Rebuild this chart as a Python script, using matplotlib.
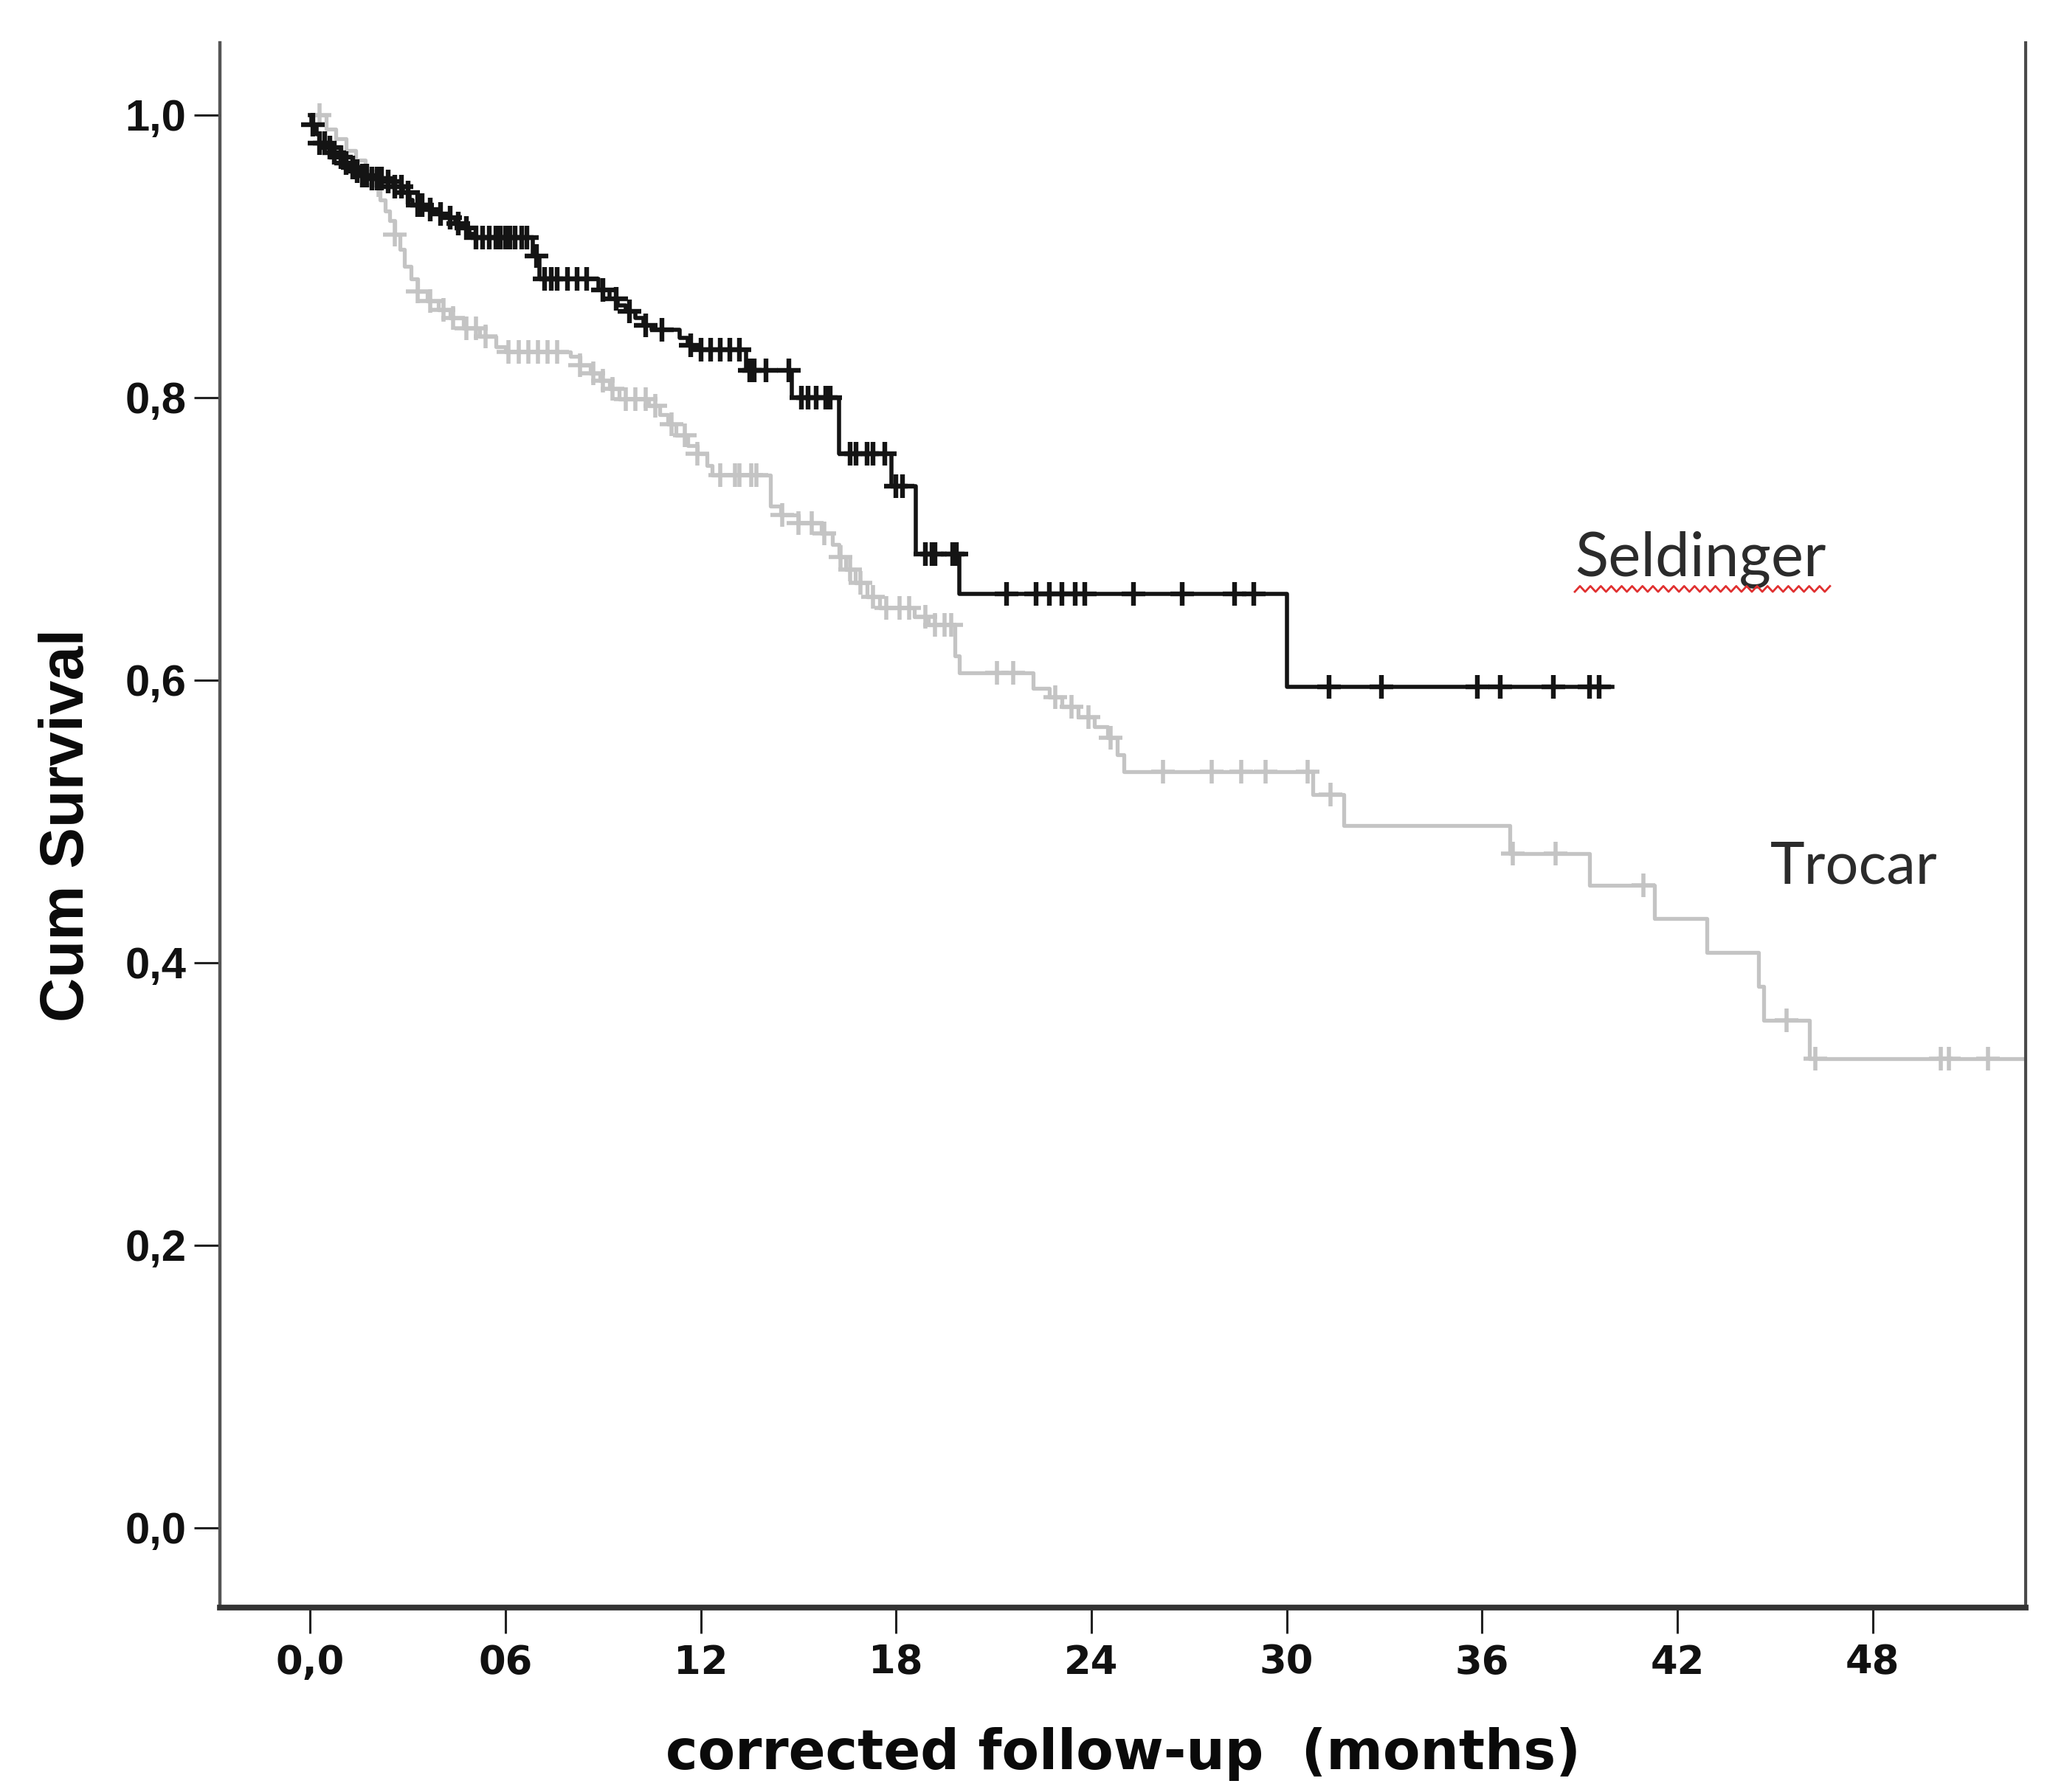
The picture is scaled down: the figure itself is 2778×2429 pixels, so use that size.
import numpy as np
import matplotlib
matplotlib.use("Agg")
import matplotlib.pyplot as plt

# ---------------- data ----------------
# Seldinger: event times (months) and survival after each event
seld_times = [0.05, 0.2, 0.3, 0.5, 0.7, 0.85, 1.0, 1.2, 1.35, 1.6, 1.9, 2.3, 2.55, 2.85,
              3.05, 3.15, 3.6, 3.85, 4.1, 4.45, 4.7, 4.9, 5.05, 6.85, 7.05, 8.85, 9.2,
              9.45, 9.7, 10.0, 10.25, 10.5, 11.35, 11.6, 11.9, 13.4, 14.8, 16.25, 17.85,
              18.6, 19.95, 30.0]
seld_surv = [0.993, 0.986, 0.980, 0.977, 0.973, 0.970, 0.966, 0.963, 0.960, 0.957, 0.955,
             0.953, 0.949, 0.945, 0.940, 0.936, 0.933, 0.930, 0.927, 0.923, 0.920, 0.916,
             0.913, 0.900, 0.884, 0.876, 0.870, 0.865, 0.861, 0.856, 0.851, 0.848, 0.842,
             0.837, 0.834, 0.819, 0.800, 0.760, 0.737, 0.689, 0.661, 0.595]
seld_end = 40.0
seld_censor = [0.08, 0.3, 0.45, 0.6, 0.75, 0.95, 1.1, 1.3, 1.45, 1.6, 1.75, 1.9, 2.05, 2.2,
               2.4, 2.6, 2.8, 3.0, 3.3, 3.45, 3.7, 4.0, 4.3, 4.55, 4.8, 5.1, 5.3, 5.5, 5.7,
               5.85, 6.0, 6.15, 6.3, 6.5, 6.65, 6.95, 7.2, 7.4, 7.6, 7.9, 8.2, 8.5, 9.0,
               9.4, 9.8, 10.3, 10.8, 11.7, 12.0, 12.3, 12.6, 12.9, 13.2, 13.5, 13.65,
               14.0, 14.7, 15.1, 15.3, 15.55, 15.85, 15.97, 16.6, 16.76, 17.1, 17.3, 17.65,
               18.0, 18.2, 18.9, 19.1, 19.2, 19.75, 19.85, 21.4, 22.3, 22.7, 23.1, 23.5,
               23.8, 25.3, 26.8, 28.4, 29.0, 31.3, 32.9, 35.85, 36.55, 38.2, 39.3, 39.6]

# Trocar
troc_times = [0.5, 0.8, 1.1, 1.4, 1.7, 1.95, 2.15, 2.3, 2.45, 2.6, 2.75, 2.9, 3.1, 3.3,
              3.6, 3.95, 4.3, 4.7, 5.2, 5.7, 6.0, 8.0, 8.3, 8.6, 8.9, 9.2, 9.5, 10.4,
              10.75, 11.0, 11.25, 11.6, 11.9, 12.2, 12.35, 14.15, 14.45, 15.0, 15.7,
              16.05, 16.25, 16.45, 16.75, 17.1, 17.5, 18.55, 19.0, 19.8, 19.95, 22.2,
              22.7, 23.1, 23.6, 24.1, 24.5, 24.8, 25.0, 30.8, 31.75, 36.85, 39.3, 41.3,
              42.9, 44.5, 44.65, 46.05]
troc_surv = [0.990, 0.983, 0.975, 0.968, 0.960, 0.950, 0.940, 0.932, 0.925, 0.915, 0.905,
             0.893, 0.884, 0.875, 0.868, 0.862, 0.856, 0.849, 0.843, 0.836, 0.832, 0.829,
             0.823, 0.817, 0.812, 0.806, 0.799, 0.794, 0.788, 0.781, 0.773, 0.766, 0.760,
             0.752, 0.745, 0.723, 0.717, 0.711, 0.704, 0.696, 0.687, 0.678, 0.669, 0.659,
             0.651, 0.645, 0.639, 0.617, 0.605, 0.594, 0.588, 0.581, 0.574, 0.567, 0.559,
             0.547, 0.535, 0.519, 0.497, 0.477, 0.455, 0.431, 0.407, 0.383, 0.359, 0.332]
troc_end = 54.0
troc_censor = [0.3, 2.1, 2.6, 3.3, 3.7, 4.1, 4.4, 4.8, 5.1, 5.4, 6.1, 6.4, 6.7, 7.0, 7.3,
               7.6, 8.3, 8.7, 9.0, 9.3, 9.7, 10.0, 10.3, 10.6, 11.1, 11.5, 11.9, 12.6,
               13.05, 13.2, 13.55, 13.7, 14.5, 15.0, 15.4, 15.8, 16.3, 16.6, 16.9, 17.3,
               17.7, 18.1, 18.4, 18.9, 19.2, 19.5, 19.7, 21.1, 21.6, 22.9, 23.4, 23.9,
               24.6, 26.2, 27.7, 28.6, 29.35, 30.65, 31.35, 36.95, 38.25, 40.95, 45.35,
               46.25, 50.1, 50.35, 51.55]

x_ticks = [0, 6, 12, 18, 24, 30, 36, 42, 48]
x_ticklabels = ["0,0", "06", "12", "18", "24", "30", "36", "42", "48"]
y_ticks = [0.0, 0.2, 0.4, 0.6, 0.8, 1.0]
y_ticklabels = ["0,0", "0,2", "0,4", "0,6", "0,8", "1,0"]

# ---------------- figure ----------------
W, H, DPI = 2778, 2429, 200
fig = plt.figure(figsize=(W / DPI, H / DPI), dpi=DPI)
ax = fig.add_axes([298 / W, 250 / H, (2745 - 298) / W, (2371 - 250) / H])


def km_curve(times, surv, end):
    t = np.concatenate([[0.0], np.asarray(times, float), [end]])
    s = np.concatenate([[1.0], np.asarray(surv, float), [surv[-1]]])
    return t, s


def censor_y(times, surv, ct):
    idx = np.searchsorted(np.asarray(times, float), np.asarray(ct, float), side="right")
    s = np.concatenate([[1.0], np.asarray(surv, float)])
    return s[idx]


gray = "#c4c4c4"
black = "#141414"

tt, ts = km_curve(troc_times, troc_surv, troc_end)
ax.step(tt, ts, where="post", color=gray, lw=1.9, zorder=2)
ax.plot(troc_censor, censor_y(troc_times, troc_surv, troc_censor), ls="none",
        marker="+", ms=11.5, mew=2.0, color=gray, zorder=2)

st, ss = km_curve(seld_times, seld_surv, seld_end)
ax.step(st, ss, where="post", color=black, lw=2.0, zorder=3)
ax.plot(seld_censor, censor_y(seld_times, seld_surv, seld_censor), ls="none",
        marker="+", ms=11.5, mew=2.3, color=black, zorder=3)

ax.set_xlim(-2.77, 52.7)
ax.set_ylim(-0.0564, 1.051)

# spines
ax.spines["top"].set_visible(False)
ax.spines["left"].set_color("#555555")
ax.spines["left"].set_linewidth(1.6)
ax.spines["right"].set_color("#4a4a4a")
ax.spines["right"].set_linewidth(1.5)
ax.spines["bottom"].set_color("#333333")
ax.spines["bottom"].set_linewidth(2.8)

ax.set_xticks(x_ticks)
ax.set_xticklabels(x_ticklabels)
ax.set_yticks(y_ticks)
ax.set_yticklabels(y_ticklabels)
ax.tick_params(axis="both", direction="out", length=12.5, width=1.1, color="#222222")
ax.tick_params(axis="x", pad=5)
ax.tick_params(axis="y", pad=4)
for lab in ax.get_xticklabels():
    lab.set_fontfamily("DejaVu Sans")
    lab.set_fontweight("bold")
    lab.set_fontsize(19)
    lab.set_color("#111111")
for lab in ax.get_yticklabels():
    lab.set_fontfamily("Liberation Sans")
    lab.set_fontweight("bold")
    lab.set_fontsize(21.5)
    lab.set_color("#111111")

ax.set_xlabel("corrected follow-up  (months)", fontfamily="DejaVu Sans",
              fontweight="bold", fontsize=26.5, labelpad=22, color="#0a0a0a")
ax.set_ylabel("Cum Survival", fontfamily="Liberation Sans", fontweight="bold",
              fontsize=30, labelpad=14, color="#0a0a0a")

# group labels
ax.text(38.85, 0.674, "Seldinger", fontfamily="Lato", fontsize=30,
        color="#2b2b2b", va="baseline", ha="left")
ax.text(44.85, 0.456, "Trocar", fontfamily="Lato", fontsize=28.5,
        color="#2b2b2b", va="baseline", ha="left")

# spell-check squiggle under "Seldinger"
zx = np.arange(38.85, 46.7, 0.16)
zy = np.where(np.arange(len(zx)) % 2 == 0, 0.6625, 0.6665)
ax.plot(zx, zy, color="#e03030", lw=1.0, zorder=4)

fig.savefig("out.png", dpi=DPI, facecolor="white")
